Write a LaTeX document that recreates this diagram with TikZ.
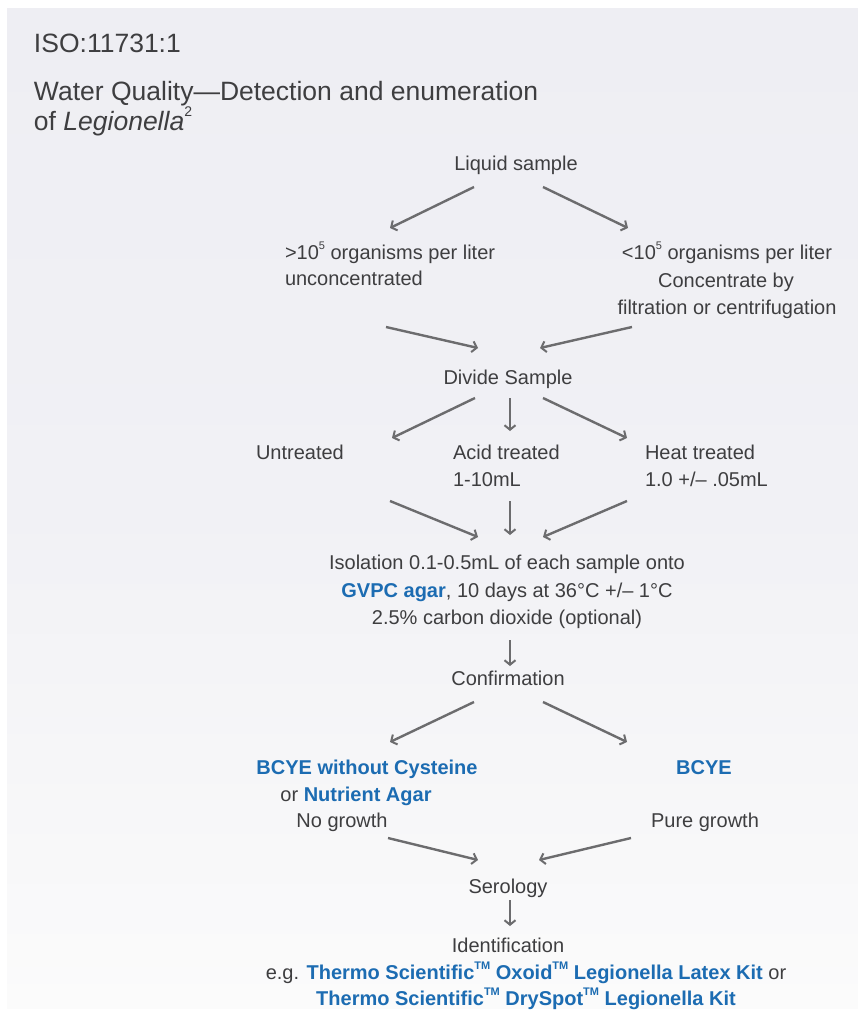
\documentclass[tikz,border=0pt]{standalone}
\usepackage{fontspec}
\setmainfont{Liberation Sans}
\usetikzlibrary{arrows.meta}
\definecolor{txt}{RGB}{62,62,64}
\definecolor{blu}{RGB}{28,108,178}
\definecolor{arr}{RGB}{108,108,110}
\definecolor{bgtop}{RGB}{238,238,243}
\definecolor{bgmid}{RGB}{241,241,245}
\definecolor{bgbot}{RGB}{251,251,251}
\newcommand{\bl}[1]{\textbf{\color{blu}#1}}
\newcommand{\smsup}[1]{\raisebox{0.9ex}{\fontsize{11}{11}\selectfont #1}}
\newcommand{\bodyfont}{\fontsize{20}{27}\selectfont}
\newcommand{\titlefont}{\fontsize{26.5}{31}\selectfont}
\begin{document}
\begin{tikzpicture}[x=1pt,y=-1pt,
  every node/.style={inner sep=0pt,outer sep=0pt,text=txt,font=\bodyfont},
  lbl/.style={anchor=base},
  lblw/.style={anchor=base west},
  ttl/.style={anchor=base west,font=\titlefont},
  conn/.style={draw=arr,line width=2.4pt,-{Straight Barb[length=4.5pt,width=11pt,line width=2pt]}}]
\useasboundingbox (0,0) rectangle (858,1010);
\shade[top color=bgtop,bottom color=bgbot,middle color=bgmid] (7,8) rectangle (858,1008);
% title
\node[ttl] (iso) at (34,52) {ISO:11731:1};
\node[ttl] (wq) at (34,100) {Water Quality—Detection and enumeration};
\node[ttl] (of) at (34,130) {of \textit{Legionella}\raisebox{1ex}{\fontsize{14}{14}\selectfont 2}};
% nodes
\node[lbl] (ls) at (516,170) {Liquid sample};
\node[lblw] (gt1) at (285,259) {>10\smsup{5} organisms per liter};
\node[lblw] (gt2) at (285,285) {unconcentrated};
\node[lbl] (lt1) at (727,259) {<10\smsup{5} organisms per liter};
\node[lbl] (lt2) at (726,287) {Concentrate by};
\node[lbl] (lt3) at (727,314) {filtration or centrifugation};
\node[lbl] (ds) at (508,384) {Divide Sample};
\node[lblw] (un) at (256,459) {Untreated};
\node[lblw] (ac1) at (453,459) {Acid treated};
\node[lblw] (ac2) at (453,486) {1-10mL};
\node[lblw] (ht1) at (645,459) {Heat treated};
\node[lblw] (ht2) at (645,486) {1.0 +/– .05mL};
\node[lbl] (is1) at (507,569) {Isolation 0.1-0.5mL of each sample onto};
\node[lbl] (is2) at (507,597) {\bl{GVPC agar}, 10 days at 36°C +/– 1°C};
\node[lbl] (is3) at (507,624) {2.5\% carbon dioxide (optional)};
\node[lbl] (cf) at (508,685) {Confirmation};
\node[lbl] (b1) at (367,774) {\bl{BCYE without Cysteine}};
\node[lbl] (b2) at (356,801) {or \bl{Nutrient Agar}};
\node[lbl] (b3) at (342,827) {No growth};
\node[lbl] (c1) at (704,774) {\bl{BCYE}};
\node[lbl] (c2) at (705,827) {Pure growth};
\node[lbl] (se) at (508,893) {Serology};
\node[lbl] (id) at (508,952) {Identification};
\node[lbl] (eg1) at (526,979) {e.g. \bl{Thermo Scientific\smsup{TM} Oxoid\smsup{TM} Legionella Latex Kit} or};
\node[lbl] (eg2) at (526,1005) {\bl{Thermo Scientific\smsup{TM} DrySpot\smsup{TM} Legionella Kit}};
% arrow end coordinates
\coordinate (a1s) at (474,187); \coordinate (a1e) at (390,228);
\coordinate (a2s) at (543,187); \coordinate (a2e) at (628,228);
\coordinate (a3s) at (386,327); \coordinate (a3e) at (478,348);
\coordinate (a4s) at (632,327); \coordinate (a4e) at (540,348);
\coordinate (a5s) at (475,398); \coordinate (a5e) at (392,438);
\coordinate (a6s) at (510,398); \coordinate (a6e) at (510,431);
\coordinate (a7s) at (543,398); \coordinate (a7e) at (627,438);
\coordinate (a8s) at (390,501); \coordinate (a8e) at (478,537);
\coordinate (a9s) at (510,501); \coordinate (a9e) at (510,535);
\coordinate (a10s) at (627,501); \coordinate (a10e) at (543,537);
\coordinate (a11s) at (510,640); \coordinate (a11e) at (510,666);
\coordinate (a12s) at (474,702); \coordinate (a12e) at (390,742);
\coordinate (a13s) at (543,702); \coordinate (a13e) at (627,742);
\coordinate (a14s) at (388,838); \coordinate (a14e) at (478,860);
\coordinate (a15s) at (631,838); \coordinate (a15e) at (539,860);
\coordinate (a16s) at (510,900); \coordinate (a16e) at (510,926);
\foreach \i in {1,...,16} {\draw[conn] (a\i s) -- (a\i e);}
\end{tikzpicture}
\end{document}
